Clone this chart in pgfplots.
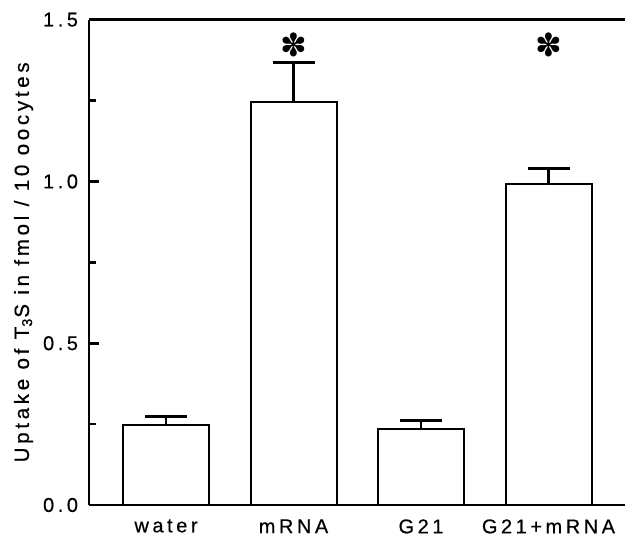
\documentclass[border=0pt]{standalone}
\usepackage{fontspec}
\setmainfont{Liberation Sans}[LetterSpace=18, FakeBold=0.6]
\newfontfamily\symfont{DejaVu Sans}
\usepackage{pgfplots}
\pgfplotsset{compat=1.18}

\begin{document}
\begin{tikzpicture}
\begin{axis}[
    scale only axis,
    width=268bp, height=242.65bp,
    xmin=-0.604, xmax=3.6, ymin=0, ymax=1.5,
    axis x line=box, axis y line=left,
    axis line style={-, line width=1.3bp},
    tick align=inside,
    major tick length=5bp, minor tick length=3.5bp,
    tick style={line width=1.3bp, black},
    ytick={0,0.5,1,1.5}, minor ytick={0.25,0.75,1.25},
    xtick={0,1,2,3}, xticklabels={water,mRNA,G21,G21+mRNA},
    xtick style={draw=none},
    /pgf/number format/assume math mode=true,
    /pgf/number format/fixed, /pgf/number format/fixed zerofill,
    /pgf/number format/precision=1,
    yticklabel style={xshift=-2bp},
    xticklabel style={anchor=north, inner sep=0pt, yshift=-7bp},
    ylabel={Uptake of T\textsubscript{3}S in fmol / 10 oocytes},
    ylabel style={at={(axis description cs:-0.122,0.5)}, anchor=center},
    tick label style={font=\fontsize{10}{12}\selectfont},
    label style={font=\fontsize{10.3}{12}\selectfont},
    clip=false,
  ]
  \addplot[ybar, bar width=43bp, fill=white, draw=black, line width=1bp,
    error bars/.cd, y dir=plus, y explicit,
    error bar style={line width=1.2bp},
    error mark options={rotate=90, mark size=10.5bp, line width=1.5bp}]
    coordinates {
      (0,0.247) +- (0,0.027)
      (1,1.245) +- (0,0.124)
      (2,0.234) +- (0,0.027)
      (3,0.991) +- (0,0.049)
    };
  % significance markers
  \addplot[draw=none, mark=none,
    nodes near coords={\symfont ✽},
    nodes near coords align=center,
    every node near coord/.style={font=\fontsize{16}{16}\selectfont, inner sep=0pt}]
    coordinates {(1,1.422) (3,1.422)};
  \path (rel axis cs:0,0) coordinate (bl) (rel axis cs:1,1) coordinate (tr);
\end{axis}
\pgfresetboundingbox
\path[use as bounding box] ([shift={(-44.5bp,-15bp)}]bl) rectangle ([shift={(0bp,9.85bp)}]tr);
\end{tikzpicture}
\end{document}
